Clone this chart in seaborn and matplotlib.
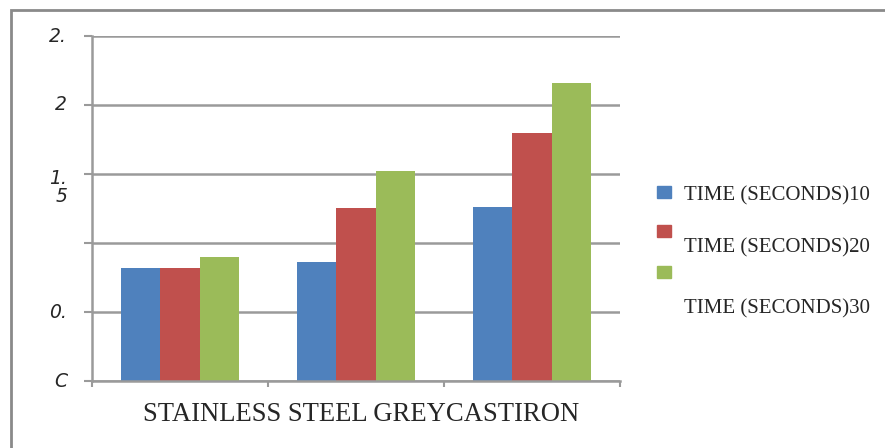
import matplotlib
matplotlib.use("Agg")
import matplotlib.pyplot as plt
from matplotlib.patches import Rectangle
from matplotlib.transforms import ScaledTranslation
import numpy as np
import pandas as pd
import seaborn as sns

# Materials and measured values per time step
materials = ["STAINLESS", "STEEL", "GREYCASTIRON"]
series_names = ["TIME (SECONDS)10", "TIME (SECONDS)20", "TIME (SECONDS)30"]
time_10 = [0.82, 0.86, 1.26]
time_20 = [0.82, 1.25, 1.80]
time_30 = [0.90, 1.52, 2.16]
y_ticks = [0, 0.5, 1.0, 1.5, 2.0, 2.5]
y_tick_labels = ["C", "0.", "", "1.\n5", "2", "2."]
colors = ["#4F81BD", "#C0504D", "#9BBB59"]

rows = []
for name, vals in zip(series_names, [time_10, time_20, time_30]):
    for mat, v in zip(materials, vals):
        rows.append({"material": mat, "series": name, "value": v})
df = pd.DataFrame(rows)

sns.set_style("white")
W, H = 885, 448
fig = plt.figure(figsize=(W / 100, H / 100), dpi=100)

def fx(px):
    return px / W

def fy(py):
    return 1 - py / H

ax = fig.add_axes([fx(92), fy(381), fx(620) - fx(92), fy(36) - fy(381)])

sns.barplot(data=df, x="material", y="value", hue="series", order=materials,
            hue_order=series_names, palette=colors, width=0.67, gap=0,
            saturation=1, linewidth=0, legend=False, ax=ax)

grid_c = "#9a9a9a"
ax.set_xlim(-0.5, 2.5)
ax.set_ylim(0, 2.5)
ax.set_yticks(y_ticks)
ax.set_yticklabels(y_tick_labels, fontsize=13.5, fontstyle="italic",
                   family=["DejaVu Sans"], linespacing=0.95)
ax.set_xticks([-0.5, 0.5, 1.5, 2.5])
ax.set_xticklabels([])
ax.set_xlabel("")
ax.set_ylabel("")
ax.yaxis.grid(True, color=grid_c, linewidth=1.8)
ax.set_axisbelow(True)
for s in ["top", "right"]:
    ax.spines[s].set_visible(False)
for s in ["left", "bottom"]:
    ax.spines[s].set_color(grid_c)
    ax.spines[s].set_linewidth(1.8)
ax.tick_params(axis="y", length=6, width=1.5, color=grid_c, pad=12, direction="out", left=True)
ax.tick_params(axis="x", length=4.5, width=1.5, color=grid_c, direction="out", bottom=True)

# Nudge the tick labels: single-line ones sit slightly high, the wrapped one hangs lower
for lab in ax.get_yticklabels():
    dy = -12 / 100 if "\n" in lab.get_text() else 2 / 100
    lab.set_transform(lab.get_transform() + ScaledTranslation(0, dy, fig.dpi_scale_trans))

# Category caption under the axis
fig.text(fx(361.5), fy(414), " ".join(materials[:2]) + " " + materials[2],
         ha="center", va="center", fontsize=19.2, family="Liberation Serif")

# Legend drawn as swatches and labels
swatch_y = [192, 231, 272]
label_y = [196, 248, 309]
for c, sy, ly, name in zip(colors, swatch_y, label_y, series_names):
    fig.patches.append(Rectangle((fx(657), fy(sy + 6)), fx(14), (12) / H,
                                 transform=fig.transFigure, color=c))
    fig.text(fx(684), fy(ly), name, ha="left", va="center", fontsize=15,
             family="Liberation Serif")

# Outer frame
fig.patches.append(Rectangle((fx(11), fy(460)), fx(900), (450) / H,
                             transform=fig.transFigure, fill=False,
                             edgecolor="#8a8a8a", linewidth=2))

fig.savefig("out.png", dpi=100)
